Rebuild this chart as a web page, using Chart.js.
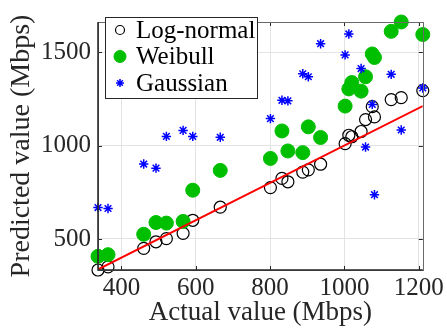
<!DOCTYPE html>
<html>
<head>
<meta charset="utf-8">
<script src="https://cdn.jsdelivr.net/npm/chart.js@4"></script>
<style>
  html, body { margin: 0; padding: 0; background: #fff; }
  #wrap { width: 447px; height: 332px; }
</style>
</head>
<body>
<div id="wrap"><canvas id="chart"></canvas></div>
<script>
// actual throughput (x) and each model's prediction (y)
const actual    = [337, 364, 460, 493, 521, 566, 592, 666, 801, 832, 848, 888, 903, 936, 1002, 1012, 1020, 1045, 1057, 1075, 1081, 1126, 1153, 1211];
const logNormal = [334, 351, 450, 485, 502, 530, 600, 670, 775, 824, 806, 858, 870, 900, 1010, 1055, 1047, 1075, 1139, 1208, 1153, 1246, 1256, 1294];
const weibull   = [407, 416, 525, 588, 585, 594, 761, 867, 931, 1078, 971, 962, 1100, 1043, 1211, 1303, 1337, 1291, 1368, 1490, 1471, 1611, 1661, 1594];
const gaussian  = [668, 663, 901, 879, 1049, 1081, 1049, 1044, 1144, 1242, 1239, 1384, 1368, 1545, 1485, 1597, null, 1412, 992, 1220, 737, 1381, 1083, 1308];
const xTicks = [400, 600, 800, 1000, 1200];
const yTicks = [500, 1000, 1500];
const xRange = [337, 1211];
const yRange = [334, 1661];

const pairs = ys => actual.map((x, i) => ({ x, y: ys[i] })).filter(p => p.y !== null);
const serif = 'Liberation Serif, Times New Roman, serif';
const ink = '#262626';

// MATLAB-like frame: box on, inward ticks, legend inside top-left
const frame = {
  id: 'frame',
  afterDraw(chart) {
    const { ctx, chartArea: a, scales } = chart;
    ctx.save();
    ctx.strokeStyle = ink;
    ctx.lineWidth = 1;
    ctx.beginPath();
    for (const v of xTicks) {
      const px = Math.round(scales.x.getPixelForValue(v)) + 0.5;
      ctx.moveTo(px, a.bottom); ctx.lineTo(px, a.bottom - 4);
      ctx.moveTo(px, a.top); ctx.lineTo(px, a.top + 4);
    }
    for (const v of yTicks) {
      const py = Math.round(scales.y.getPixelForValue(v)) + 0.5;
      ctx.moveTo(a.left, py); ctx.lineTo(a.left + 4, py);
      ctx.moveTo(a.right, py); ctx.lineTo(a.right - 4, py);
    }
    ctx.stroke();
    ctx.strokeStyle = '#6a6a6a';
    ctx.strokeRect(Math.round(a.left) + 0.5, Math.round(a.top) + 0.5, Math.round(a.right - a.left), Math.round(a.bottom - a.top));
    ctx.strokeStyle = ink;
    ctx.lineWidth = 1.5;
    ctx.beginPath();
    ctx.moveTo(a.left, a.top); ctx.lineTo(a.left, a.bottom); ctx.lineTo(a.right, a.bottom);
    ctx.stroke();

    // legend
    const lx = 105, ly = 17, lw = 152, lh = 81;
    ctx.fillStyle = '#fff';
    ctx.fillRect(lx, ly, lw, lh);
    ctx.strokeStyle = ink;
    ctx.lineWidth = 1;
    ctx.strokeRect(lx + 0.5, ly + 0.5, lw, lh);
    const rows = [30, 56.5, 83];
    const sets = chart.data.datasets.filter(d => d.inLegend).sort((p, q) => q.order - p.order);
    sets.forEach((d, i) => {
      const y = rows[i];
      ctx.lineWidth = d.borderWidth;
      ctx.strokeStyle = d.borderColor;
      ctx.fillStyle = d.backgroundColor;
      ctx.beginPath();
      if (d.pointStyle === 'circle') {
        ctx.arc(120, y, d.legendRadius, 0, Math.PI * 2);
        if (d.backgroundColor !== 'transparent') ctx.fill();
        ctx.stroke();
      } else {
        const r = d.legendRadius;
        for (let k = 0; k < 4; k++) {
          const t = k * Math.PI / 4;
          ctx.moveTo(120 - r * Math.cos(t), y - r * Math.sin(t));
          ctx.lineTo(120 + r * Math.cos(t), y + r * Math.sin(t));
        }
        ctx.stroke();
      }
      ctx.fillStyle = '#000';
      ctx.font = '25px ' + serif;
      ctx.textBaseline = 'middle';
      ctx.fillText(d.label, 136, y + 1);
    });
    ctx.restore();
  }
};

new Chart(document.getElementById('chart'), {
  type: 'scatter',
  data: {
    datasets: [
      {
        label: 'Ideal',
        type: 'line',
        data: [{ x: xRange[0], y: xRange[0] }, { x: xRange[1], y: xRange[1] }],
        borderColor: '#ff0000',
        borderWidth: 2,
        pointRadius: 0,
        order: 0,
      },
      {
        label: 'Gaussian',
        data: pairs(gaussian),
        pointStyle: 'star',
        pointRadius: 4.7,
        borderColor: '#0000ff',
        backgroundColor: '#0000ff',
        borderWidth: 1.5,
        legendRadius: 4,
        inLegend: true,
        clip: false,
        order: 1,
      },
      {
        label: 'Weibull',
        data: pairs(weibull),
        pointStyle: 'circle',
        pointRadius: 7,
        borderColor: '#00bf00',
        backgroundColor: '#00bf00',
        borderWidth: 1,
        legendRadius: 6,
        inLegend: true,
        clip: false,
        order: 2,
      },
      {
        label: 'Log-normal',
        data: pairs(logNormal),
        pointStyle: 'circle',
        pointRadius: 6,
        borderColor: '#000000',
        backgroundColor: 'transparent',
        borderWidth: 1.2,
        legendRadius: 4.5,
        inLegend: true,
        clip: false,
        order: 3,
      },
    ],
  },
  options: {
    animation: false,
    responsive: true,
    maintainAspectRatio: false,
    layout: { padding: { left: 5, right: 24, top: 15, bottom: 0 } },
    plugins: { legend: { display: false }, tooltip: { enabled: false } },
    scales: {
      x: {
        type: 'linear',
        min: xRange[0],
        max: xRange[1],
        afterBuildTicks: s => (s.ticks = xTicks.map(value => ({ value }))),
        afterFit: s => (s.height = 62),
        grid: { color: '#e3e3e3', drawTicks: false },
        border: { display: false },
        ticks: { color: ink, font: { family: serif, size: 25 }, padding: 3, maxRotation: 0, callback: v => String(v) },
        title: {
          display: true,
          text: 'Actual value (Mbps)',
          color: ink,
          font: { family: serif, size: 27 },
          padding: { top: 0, bottom: 3 },
        },
      },
      y: {
        type: 'linear',
        min: yRange[0],
        max: yRange[1],
        afterBuildTicks: s => (s.ticks = yTicks.map(value => ({ value }))),
        afterFit: s => (s.width = 93),
        grid: { color: '#e3e3e3', drawTicks: false },
        border: { display: false },
        ticks: { color: ink, font: { family: serif, size: 25 }, padding: 7, callback: v => String(v) },
        title: {
          display: true,
          text: 'Predicted value (Mbps)',
          color: ink,
          font: { family: serif, size: 28 },
          padding: { top: 0, bottom: 0 },
        },
      },
    },
  },
  plugins: [frame],
});
</script>
</body>
</html>
